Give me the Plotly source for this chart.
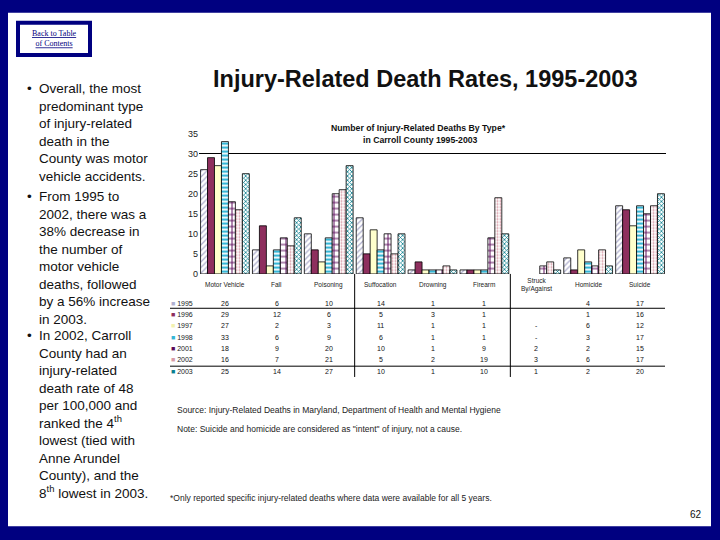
import plotly.graph_objects as go

# ---------------- data ----------------
CATEGORIES = ["Motor Vehicle", "Fall", "Poisoning", "Suffocation", "Drowning",
              "Firearm", "Struck<br>By/Against", "Homicide", "Suicide"]
YEARS = ["1995", "1996", "1997", "1998", "2001", "2002", "2003"]

D1995 = [26, 6, 10, 14, 1, 1, None, 4, 17]
D1996 = [29, 12, 6, 5, 3, 1, None, 1, 16]
D1997 = [27, 2, 3, 11, 1, 1, 0, 6, 12]
D1998 = [33, 6, 9, 6, 1, 1, 0, 3, 17]
D2001 = [18, 9, 20, 10, 1, 9, 2, 2, 15]
D2002 = [16, 7, 21, 5, 2, 19, 3, 6, 17]
D2003 = [25, 14, 27, 10, 1, 10, 1, 2, 20]
SERIES = [D1995, D1996, D1997, D1998, D2001, D2002, D2003]

Y_TICKS = [0, 5, 10, 15, 20, 25, 30, 35]
GRID_VALUES = [30, 35]

SLIDE_TITLE = "Injury-Related Death Rates, 1995-2003"
CHART_TITLE_1 = "Number of Injury-Related Deaths By Type*"
CHART_TITLE_2 = "in Carroll County 1995-2003"
BULLETS = [
    ["Overall, the most", "predominant type", "of injury-related", "death in the",
     "County was motor", "vehicle accidents."],
    ["From 1995 to", "2002, there was a", "38% decrease in", "the number of",
     "motor vehicle", "deaths, followed", "by a 56% increase", "in 2003."],
    ["In 2002, Carroll", "County had an", "injury-related", "death rate of 48",
     "per 100,000 and", "ranked the 4<sup>th</sup>", "lowest (tied with",
     "Anne Arundel", "County), and the", "8<sup>th</sup> lowest in 2003."],
]
SOURCE = "Source: Injury-Related Deaths in Maryland, Department of Health and Mental Hygiene"
NOTE = "Note: Suicide and homicide are considered as \"intent\" of injury, not a cause."
FOOTNOTE = "*Only reported specific injury-related deaths where data were available for all 5 years."
PAGE = "62"

# ---------------- styles ----------------
W, H = 720, 540
NAVY = "#000080"
FONT = "Liberation Sans, Arial, sans-serif"
STYLES = [
    dict(color="white", pattern=dict(shape="/", fgcolor="#ABABCB", bgcolor="white", size=4, solidity=0.3, fillmode="replace"), key="#B0B0D0"),
    dict(color="#8E2F5E", pattern=None, key="#8E2F5E"),
    dict(color="#FFFFCC", pattern=None, key="#F2F2B0"),
    dict(color="white", pattern=dict(shape="-", fgcolor="#35B6D6", bgcolor="white", size=4, solidity=0.55, fillmode="replace"), key="#35B6D6"),
    dict(color="white", pattern=dict(shape="+", fgcolor="#5A0A5A", bgcolor="white", size=6, solidity=0.3, fillmode="replace"), key="#5A0A5A"),
    dict(color="white", pattern=dict(shape=".", fgcolor="#D89AA6", bgcolor="white", size=3, solidity=0.35, fillmode="replace"), key="#D89AA6"),
    dict(color="white", pattern=dict(shape="x", fgcolor="#0B7F8F", bgcolor="white", size=3, solidity=0.45, fillmode="replace"), key="#0B7F8F"),
]


def px(x):
    return x / W


def py(y):
    return 1 - y / H


fig = go.Figure()
for year, vals, st in zip(YEARS, SERIES, STYLES):
    marker = dict(color=st["color"], line=dict(color="black", width=0.8))
    if st["pattern"]:
        marker["pattern"] = st["pattern"]
    fig.add_trace(go.Bar(
        x=CATEGORIES, y=[v if v else None for v in vals], name=year,
        marker=marker, showlegend=False,
    ))

# helper trace so the overlay axis (for the two top gridlines) exists
fig.add_trace(go.Scatter(x=[CATEGORIES[0]], y=[None], yaxis="y2", mode="markers",
                         showlegend=False, hoverinfo="skip"))

X_DOM = [px(199), px(666)]
Y_DOM = [py(274), py(131)]

fig.update_layout(
    width=W, height=H,
    margin=dict(l=0, r=0, t=0, b=0),
    paper_bgcolor=NAVY, plot_bgcolor="rgba(0,0,0,0)",
    barmode="group", bargap=0.06, bargroupgap=0,
    font=dict(family=FONT, color="#111"),
    xaxis=dict(domain=X_DOM, showticklabels=False, showgrid=False, zeroline=False,
               showline=False, ticks="", range=[-0.5, len(CATEGORIES) - 0.5]),
    yaxis=dict(domain=Y_DOM, range=[0, 35], tickvals=Y_TICKS, showgrid=False,
               zeroline=False, showline=False, ticks="", tickfont=dict(size=9, color="#222")),
    yaxis2=dict(overlaying="y", range=[0, 35], tickvals=GRID_VALUES, showgrid=True,
                gridcolor="black", gridwidth=1, showticklabels=False, zeroline=False,
                showline=False, ticks=""),
)

shapes = []
# white slide area
shapes.append(dict(type="rect", xref="paper", yref="paper", x0=px(8), x1=px(711),
                   y0=py(531), y1=py(8), fillcolor="white", line=dict(width=0), layer="below"))
# back to table box
shapes.append(dict(type="rect", xref="paper", yref="paper", x0=px(18), x1=px(90),
                   y0=py(51), y1=py(18), fillcolor="white", line=dict(color=NAVY, width=4), layer="below"))
# table horizontal rules
for yy in (309, 368):
    shapes.append(dict(type="line", xref="paper", yref="paper", x0=px(170), x1=px(665),
                       y0=py(yy), y1=py(yy), line=dict(color="black", width=1)))
# table vertical separators (between category groups)
for sep in (2.5, 5.5):
    shapes.append(dict(type="line", xref="x", yref="paper", x0=sep, x1=sep,
                       y0=py(274), y1=py(379), line=dict(color="black", width=1)))

ann = []


def note(text, x, y, size, color="#111", xanchor="center", family=None, xref="paper"):
    f = dict(size=size, color=color)
    if family:
        f["family"] = family
    ann.append(dict(text=text, x=x, y=py(y), xref=xref, yref="paper", xanchor=xanchor,
                    yanchor="middle", showarrow=False, font=f))


note("<u>Back to Table</u><br><u>of Contents</u>", px(54), 34, 8, NAVY,
     family="Liberation Serif, Times New Roman, serif")
note("<b>" + SLIDE_TITLE + "</b>", px(425), 75, 23.5)
note("<b>" + CHART_TITLE_1 + "</b>", px(418), 125, 8.7)
note("<b>" + CHART_TITLE_2 + "</b>", px(420), 138, 8.7)

# bullets
for lines, top in zip(BULLETS, (85, 195, 337)):
    note("•", px(25), top, 13.5, xanchor="left")
    ann.append(dict(text="<br>".join(lines), x=px(37), y=py(top - 10), xref="paper", yref="paper",
                    xanchor="left", yanchor="top", align="left", showarrow=False,
                    font=dict(size=13.5, color="#111")))

# table header (category labels)
for cat in CATEGORIES:
    note(cat, cat, 285, 6.5, "#222", xref="x")

# table rows
ROW_Y = [304, 315.5, 327, 338.5, 350, 361.5, 373]
for year, vals, st, ry in zip(YEARS, SERIES, STYLES, ROW_Y):
    note("<span style='color:%s'>■</span> %s" % (st["key"], year), px(169), ry, 7, "#222",
         xanchor="left")
    for cat, v in zip(CATEGORIES, vals):
        txt = "" if v is None else ("-" if v == 0 else str(v))
        if txt:
            note(txt, cat, ry, 7, xref="x")

note(SOURCE, px(175), 413, 8.5, "#222", xanchor="left")
note(NOTE, px(175), 432, 8.5, "#222", xanchor="left")
note(FOOTNOTE, px(168), 502, 8.5, "#222", xanchor="left")
note(PAGE, px(704), 519, 10, xanchor="right")

fig.update_layout(shapes=shapes, annotations=ann)
fig.write_html(
    "out.html", config={"displayModeBar": False},
    post_script="document.body.style.margin='0px';",
)
